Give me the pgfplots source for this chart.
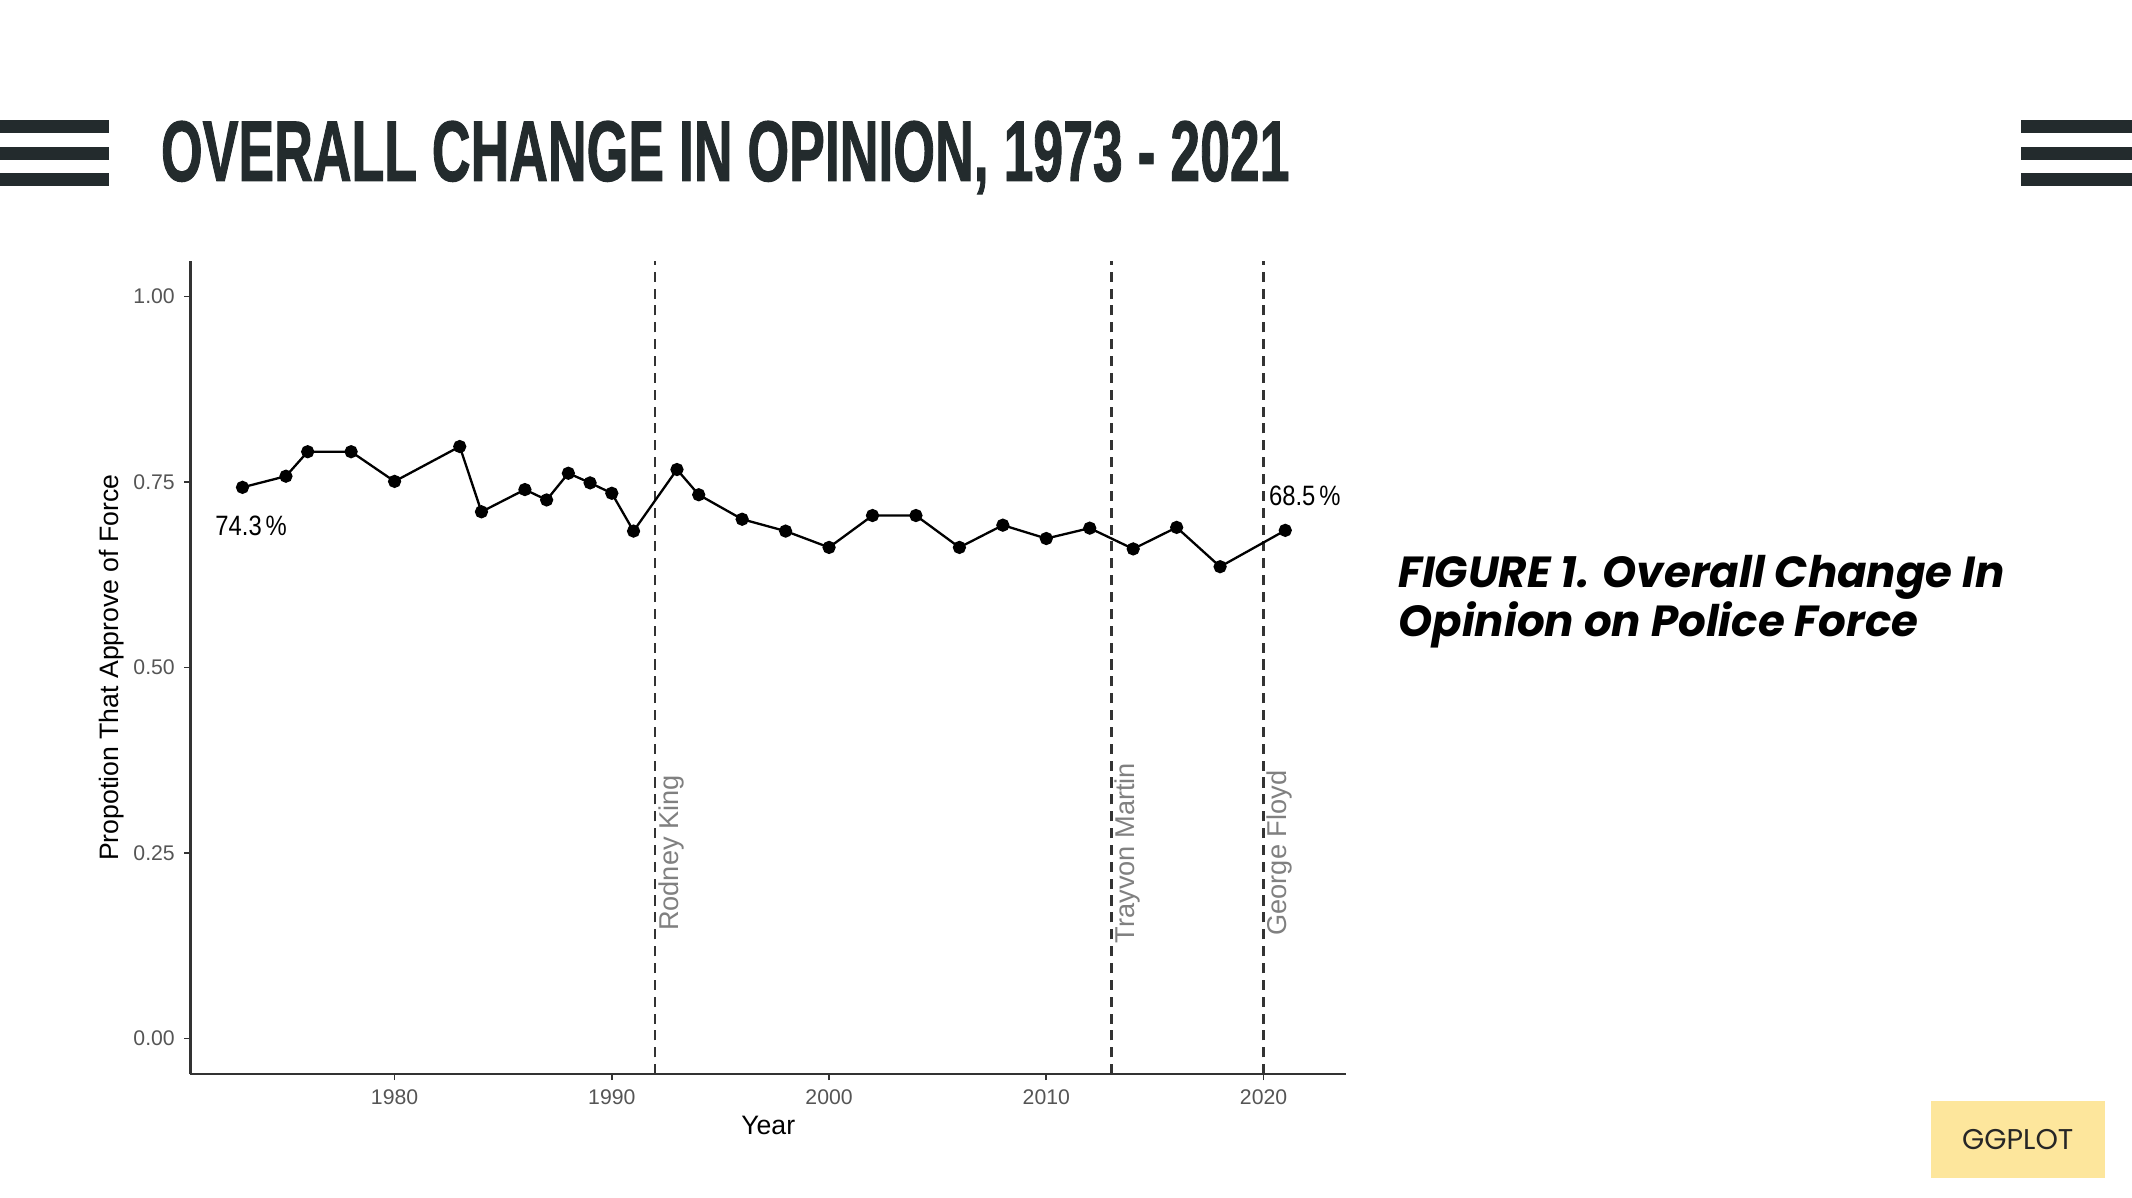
\documentclass[border=0pt]{standalone}
\usepackage{fontspec}
\setmainfont{Liberation Sans}
\newfontfamily\titlefont{Liberation Sans}[FakeBold=1.5]
\newfontfamily\capfont{Poppins}
\usepackage{graphicx}
\usepackage{pgfplots}
\usepackage{pgfplotstable}
\pgfplotsset{compat=1.18}
\definecolor{titlecol}{HTML}{232B2D}
\definecolor{tickgray}{HTML}{555555}
\definecolor{annogray}{HTML}{808080}
\definecolor{axcol}{HTML}{333333}
\definecolor{ggbox}{HTML}{FDE69C}

\pgfplotstableread{
year val
1973 0.743
1975 0.758
1976 0.791
1978 0.791
1980 0.751
1983 0.798
1984 0.710
1986 0.740
1987 0.726
1988 0.762
1989 0.749
1990 0.735
1991 0.684
1993 0.767
1994 0.733
1996 0.700
1998 0.684
2000 0.662
2002 0.705
2004 0.705
2006 0.662
2008 0.692
2010 0.674
2012 0.688
2014 0.660
2016 0.689
2018 0.636
2021 0.685
}\opinion

\begin{document}
\begin{tikzpicture}
\begin{scope}[x=0.5pt,y=-0.5pt]
\path[use as bounding box] (0,0) rectangle (1568,881);
\fill[white] (0,0) rectangle (1568,881);
% bars
\fill[titlecol] (0,88) rectangle (80,98);
\fill[titlecol] (0,108) rectangle (80,118);
\fill[titlecol] (0,127) rectangle (80,137);
\fill[titlecol] (1486,88) rectangle (1568,98);
\fill[titlecol] (1486,108) rectangle (1568,118);
\fill[titlecol] (1486,127) rectangle (1568,137);
% title
\node[anchor=base west, inner sep=0, text=titlecol] at (118,133)
  {\resizebox{415pt}{22pt}{\titlefont\bfseries OVERALL CHANGE IN OPINION, 1973 - 2021}};
% caption
\node[anchor=base west, inner sep=0] at (1028,432)
  {\capfont\bfseries\itshape\fontsize{16}{19}\selectfont FIGURE 1. Overall Change In};
\node[anchor=base west, inner sep=0] at (1028,468)
  {\capfont\bfseries\itshape\fontsize{16}{19}\selectfont Opinion on Police Force};
% ggplot box
\fill[ggbox] (1420,810) rectangle (1548,866);
\node[inner sep=0, text=black!85] at (1484,838)
  {\capfont\fontsize{10.5}{12}\selectfont GGPLOT};
\end{scope}

\begin{axis}[
  at={(70pt,-96pt)}, anchor=north west,
  scale only axis, width=425pt, height=299pt,
  xmin=1970.6, xmax=2023.8, ymin=-0.048, ymax=1.048,
  axis x line*=bottom, axis y line*=left,
  axis line style={draw=axcol, line width=0.9pt},
  xtick={1980,1990,2000,2010,2020},
  ytick={0,0.25,0.5,0.75,1},
  tick align=outside, major tick length=2.2pt,
  tick style={draw=axcol, line width=0.6pt},
  x tick label style={/pgf/number format/1000 sep={}},
  y tick label style={/pgf/number format/.cd, fixed, fixed zerofill, precision=2},
  ticklabel style={font=\fontsize{7.8}{9}\selectfont, text=tickgray},
  /pgf/number format/assume math mode=true,
  xlabel={Year}, ylabel={Propotion That Approve of Force},
  label style={font=\fontsize{9.8}{11}\selectfont},
  xlabel style={at={(axis description cs:0.5,-0.0635)}, anchor=center},
  ylabel style={at={(axis description cs:-0.0682,0.5)}, anchor=center},
  clip=false,
]
\addplot[axcol, line width=0.85pt, dash pattern=on 3.7pt off 2.5pt] coordinates {(1992,-0.048) (1992,1.048)};
\addplot[axcol, line width=0.85pt, dash pattern=on 3.7pt off 2.5pt] coordinates {(2013,-0.048) (2013,1.048)};
\addplot[axcol, line width=0.85pt, dash pattern=on 3.7pt off 2.5pt] coordinates {(2020,-0.048) (2020,1.048)};
\addplot[black, line width=0.85pt, mark=*, mark size=2pt, mark options={solid, fill=black}] table[x=year, y=val] {\opinion};
\node[rotate=90, text=annogray, font=\fontsize{10}{12}\selectfont] at (axis cs:1992.75,0.25) {Rodney King};
\node[rotate=90, text=annogray, font=\fontsize{10}{12}\selectfont] at (axis cs:2013.75,0.25) {Trayvon Martin};
\node[rotate=90, text=annogray, font=\fontsize{10}{12}\selectfont] at (axis cs:2020.75,0.25) {George Floyd};
\node[font=\fontsize{10.3}{12}\selectfont] at (axis cs:1973.4,0.6905) {\scalebox{0.85}[1]{74.3\,\%}};
\node[font=\fontsize{10.3}{12}\selectfont] at (axis cs:2021.9,0.731) {\scalebox{0.85}[1]{68.5\,\%}};
\end{axis}
\end{tikzpicture}
\end{document}
